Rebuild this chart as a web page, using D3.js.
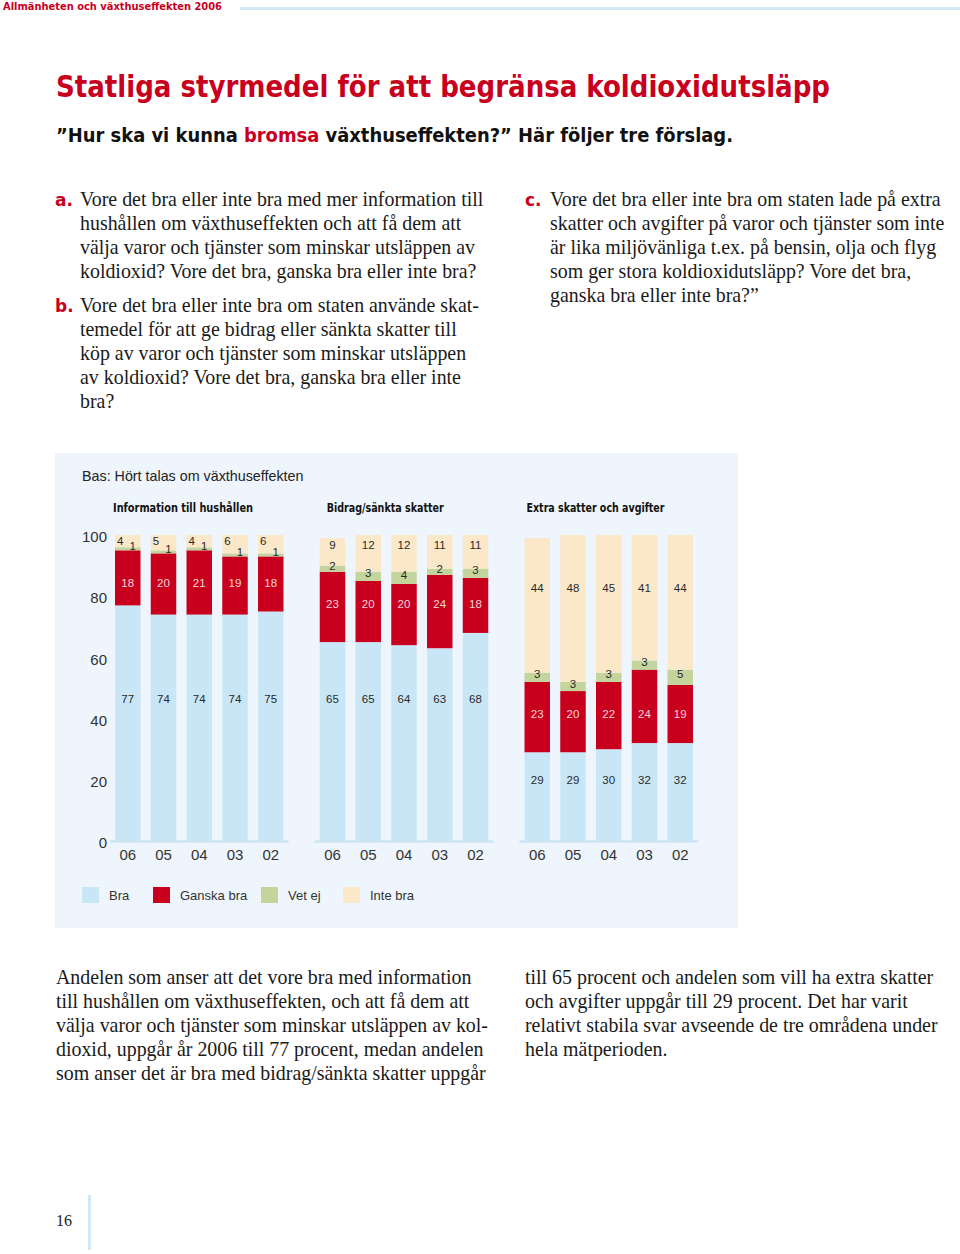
<!DOCTYPE html>
<html>
<head>
<meta charset="utf-8">
<script src="https://cdn.jsdelivr.net/npm/d3@7"></script>
<style>
body { margin: 0; background: #fff; }
svg { display: block; }
</style>
</head>
<body>
<script>
// chart data, stacked from the bottom: Bra, Ganska bra, Vet ej, Inte bra
var years = ["06", "05", "04", "03", "02"];
var groups = ["Information till hushållen", "Bidrag/sänkta skatter", "Extra skatter och avgifter"];
var seriesNames = ["Bra", "Ganska bra", "Vet ej", "Inte bra"];

var infoBra     = [77, 74, 74, 74, 75];
var infoGanska  = [18, 20, 21, 19, 18];
var infoVetEj   = [1, 1, 1, 1, 1];
var infoInteBra = [4, 5, 4, 6, 6];

var bidragBra     = [65, 65, 64, 63, 68];
var bidragGanska  = [23, 20, 20, 24, 18];
var bidragVetEj   = [2, 3, 4, 2, 3];
var bidragInteBra = [9, 12, 12, 11, 11];

var extraBra     = [29, 29, 30, 32, 32];
var extraGanska  = [23, 20, 22, 24, 19];
var extraVetEj   = [3, 3, 3, 3, 5];
var extraInteBra = [44, 48, 45, 41, 44];

var yTicks = [0, 20, 40, 60, 80, 100];

const width = 960;
const height = 1254;
const red = '#c8001e';
const colours = ['#c9e6f7', '#c8001e', '#c3d49d', '#fbe8c9'];

// where the value labels sit (in percent units, null = middle of the segment)
const labelLevels = [
    {levels: [46.4, 84.3, null, 98], vetDx: 5, inteDx: -7.5, titleDx: -2, titleW: 140},
    {levels: [46.4, 77.5, null, 96.7], vetDx: 0, inteDx: 0, titleDx: 7, titleW: 117},
    {levels: [19.9, 41.5, null, 82.8], vetDx: 0, inteDx: 0, titleDx: 2, titleW: 138}
];

var tableData = [
    [infoBra, infoGanska, infoVetEj, infoInteBra],
    [bidragBra, bidragGanska, bidragVetEj, bidragInteBra],
    [extraBra, extraGanska, extraVetEj, extraInteBra]
];

var svg = d3.select('body').append('svg')
    .attr('width', width)
    .attr('height', height);

// page header
svg.append('text')
    .attr('x', 3).attr('y', 10)
    .attr('font-family', 'DejaVu Sans').attr('font-weight', 'bold')
    .attr('font-size', 10.5).attr('fill', red)
    .attr('textLength', 219).attr('lengthAdjust', 'spacingAndGlyphs')
    .text('Allmänheten och växthuseffekten 2006');
svg.append('line')
    .attr('x1', 240).attr('x2', 960).attr('y1', 8.5).attr('y2', 8.5)
    .attr('stroke', '#d3e8f5').attr('stroke-width', 3);

// title
svg.append('text')
    .attr('x', 56).attr('y', 97)
    .attr('font-family', '"DejaVu Sans Condensed", "DejaVu Sans"').attr('font-weight', 'bold')
    .attr('font-size', 31).attr('fill', red)
    .attr('textLength', 774).attr('lengthAdjust', 'spacingAndGlyphs')
    .text('Statliga styrmedel för att begränsa koldioxidutsläpp');

var sub = svg.append('text')
    .attr('x', 56).attr('y', 141.5)
    .attr('font-family', '"DejaVu Sans Condensed", "DejaVu Sans"').attr('font-weight', 'bold')
    .attr('font-size', 20).attr('fill', '#111')
    .attr('textLength', 677).attr('lengthAdjust', 'spacingAndGlyphs');
sub.append('tspan').text('”Hur ska vi kunna ');
sub.append('tspan').attr('fill', red).text('bromsa');
sub.append('tspan').text(' växthuseffekten?” Här följer tre förslag.');

// question texts
function paragraph(x, y, lines) {
    var t = svg.append('text')
        .attr('font-family', '"Liberation Serif", "Times New Roman", serif')
        .attr('font-size', 19.9).attr('fill', '#1a1a1a');
    lines.forEach(function(line, i) {
        t.append('tspan').attr('x', x).attr('y', y + i * 24).text(line);
    });
}
function marker(x, y, letter) {
    svg.append('text')
        .attr('x', x).attr('y', y)
        .attr('font-family', '"DejaVu Sans"').attr('font-weight', 'bold')
        .attr('font-size', 17).attr('fill', red)
        .text(letter);
}

marker(55, 205.5, 'a.');
paragraph(80, 205.5, [
    'Vore det bra eller inte bra med mer information till',
    'hushållen om växthuseffekten och att få dem att',
    'välja varor och tjänster som minskar utsläppen av',
    'koldioxid? Vore det bra, ganska bra eller inte bra?'
]);
marker(55, 311.5, 'b.');
paragraph(80, 311.5, [
    'Vore det bra eller inte bra om staten använde skat-',
    'temedel för att ge bidrag eller sänkta skatter till',
    'köp av varor och tjänster som minskar utsläppen',
    'av koldioxid? Vore det bra, ganska bra eller inte',
    'bra?'
]);
marker(525, 205.5, 'c.');
paragraph(550, 205.5, [
    'Vore det bra eller inte bra om staten lade på extra',
    'skatter och avgifter på varor och tjänster som inte',
    'är lika miljövänliga t.ex. på bensin, olja och flyg',
    'som ger stora koldioxidutsläpp? Vore det bra,',
    'ganska bra eller inte bra?”'
]);

// chart panel
svg.append('rect')
    .attr('x', 55).attr('y', 453)
    .attr('width', 683).attr('height', 475)
    .attr('fill', '#eef5fc');

svg.append('text')
    .attr('x', 82).attr('y', 481)
    .attr('font-family', '"Liberation Sans", Arial, sans-serif')
    .attr('font-size', 14.3).attr('fill', '#222')
    .text('Bas: Hört talas om växthuseffekten');

const yScale = d3.scaleLinear()
    .domain([0, 100])
    .range([841, 535]);

const groupScale = d3.scaleBand()
    .domain(groups)
    .range([115, 693])
    .paddingInner(0.177);

// y axis labels
var yAxis = svg.append('g')
    .attr('transform', 'translate(107, 0)')
    .call(d3.axisLeft(yScale).tickValues(yTicks).tickSize(0).tickPadding(0));
yAxis.select('.domain').remove();
yAxis.selectAll('text')
    .attr('font-family', '"Liberation Sans", Arial, sans-serif')
    .attr('font-size', 15).attr('fill', '#333')
    .attr('dy', '0.45em');

groups.forEach(function(groupName, gi) {
    var x0 = groupScale(groupName);
    var xScale = d3.scaleBand()
        .domain(years)
        .range([x0, x0 + groupScale.bandwidth()])
        .paddingInner(0.287);

    var series = tableData[gi];
    var rows = years.map(function(yr, i) {
        var row = {year: yr};
        seriesNames.forEach(function(s, si) { row[s] = series[si][i]; });
        return row;
    });
    var stacked = d3.stack().keys(seriesNames)(rows);
    var lay = labelLevels[gi];

    var g = svg.append('g');

    // group title
    g.append('text')
        .attr('x', x0 + lay.titleDx).attr('y', 512)
        .attr('font-family', '"DejaVu Sans Condensed", "DejaVu Sans"').attr('font-weight', 'bold')
        .attr('font-size', 12.5).attr('fill', '#111')
        .attr('textLength', lay.titleW).attr('lengthAdjust', 'spacingAndGlyphs')
        .text(groupName);

    // bars
    stacked.forEach(function(layer, si) {
        g.selectAll('rect.s' + si)
            .data(layer)
            .enter()
            .append('rect')
                .attr('class', 's' + si)
                .attr('x', (d) => xScale(d.data.year))
                .attr('y', (d) => yScale(d[1]))
                .attr('width', xScale.bandwidth())
                .attr('height', (d) => yScale(d[0]) - yScale(d[1]))
                .attr('fill', colours[si]);
    });

    // baseline
    g.append('line')
        .attr('x1', x0 - 5).attr('x2', x0 + groupScale.bandwidth() + 5)
        .attr('y1', yScale(0) + 0.5).attr('y2', yScale(0) + 0.5)
        .attr('stroke', '#cde4f4').attr('stroke-width', 2.5);

    // value labels
    stacked.forEach(function(layer, si) {
        g.selectAll('text.v' + si)
            .data(layer)
            .enter()
            .append('text')
                .attr('class', 'v' + si)
                .attr('x', function(d) {
                    var cx = xScale(d.data.year) + xScale.bandwidth() / 2;
                    if (si == 2) return cx + lay.vetDx;
                    if (si == 3) return cx + lay.inteDx;
                    return cx;
                })
                .attr('y', function(d) {
                    var lv = lay.levels[si];
                    if (lv == null) lv = (d[0] + d[1]) / 2 + 1;
                    return yScale(lv);
                })
                .attr('dy', '0.36em')
                .attr('text-anchor', 'middle')
                .attr('font-family', '"Liberation Sans", Arial, sans-serif')
                .attr('font-size', 11.5)
                .attr('fill', si == 1 ? '#f6d6d8' : '#2a2a2a')
                .text((d) => d[1] - d[0]);
    });

    // year labels
    var xAxis = g.append('g')
        .attr('transform', `translate(0, ${yScale(0)})`)
        .call(d3.axisBottom(xScale).tickSize(0).tickPadding(8));
    xAxis.select('.domain').remove();
    xAxis.selectAll('text')
        .attr('font-family', '"Liberation Sans", Arial, sans-serif')
        .attr('font-size', 15).attr('fill', '#333');
});

// legend
var legendX = [82, 153, 261, 343];
seriesNames.forEach(function(name, i) {
    svg.append('rect')
        .attr('x', legendX[i]).attr('y', 887)
        .attr('width', 17).attr('height', 16)
        .attr('fill', colours[i]);
    svg.append('text')
        .attr('x', legendX[i] + 27).attr('y', 900)
        .attr('font-family', '"Liberation Sans", Arial, sans-serif')
        .attr('font-size', 13).attr('fill', '#333')
        .text(name);
});

// summary text
paragraph(56, 983.5, [
    'Andelen som anser att det vore bra med information',
    'till hushållen om växthuseffekten, och att få dem att',
    'välja varor och tjänster som minskar utsläppen av kol-',
    'dioxid, uppgår år 2006 till 77 procent, medan andelen',
    'som anser det är bra med bidrag/sänkta skatter uppgår'
]);
paragraph(525, 983.5, [
    'till 65 procent och andelen som vill ha extra skatter',
    'och avgifter uppgår till 29 procent. Det har varit',
    'relativt stabila svar avseende de tre områdena under',
    'hela mätperioden.'
]);

// page number
svg.append('text')
    .attr('x', 56).attr('y', 1226)
    .attr('font-family', '"Liberation Serif", serif')
    .attr('font-size', 16).attr('fill', '#222')
    .text('16');
svg.append('line')
    .attr('x1', 89.5).attr('x2', 89.5).attr('y1', 1195).attr('y2', 1250)
    .attr('stroke', '#d3e8f5').attr('stroke-width', 3);
</script>
</body>
</html>
